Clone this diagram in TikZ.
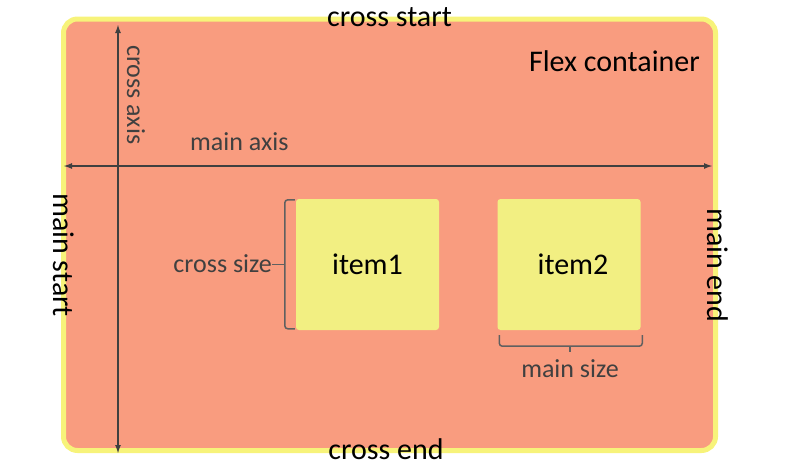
\documentclass[tikz,border=0pt]{standalone}
\usepackage{fontspec}
\setmainfont{Carlito}
\usetikzlibrary{arrows.meta}
\definecolor{boxfill}{RGB}{249,156,127}
\definecolor{boxborder}{RGB}{247,243,122}
\definecolor{itemfill}{RGB}{242,239,130}
\definecolor{axisgray}{RGB}{64,64,64}
\definecolor{bracegray}{RGB}{96,96,96}
\newcommand\fcbig{\fontsize{30}{36}\selectfont}
\newcommand\fcsmall{\fontsize{26}{31}\selectfont}
\tikzset{
 container/.style={draw=boxborder, fill=boxfill, line width=5pt, rounded corners=14pt, minimum width=652pt, minimum height=431.5pt, inner sep=0pt},
 flexitem/.style={fill=itemfill, rounded corners=3pt, minimum width=143pt, minimum height=131pt, inner sep=0pt, font=\fcbig, text=black},
 bigtext/.style={font=\fcbig, text=black, inner sep=0pt},
 smalltext/.style={font=\fcsmall, text=axisgray, inner sep=0pt},
 axisline/.style={draw=axisgray, line width=2pt, {Latex[length=9pt,width=6pt]}-{Latex[length=9pt,width=6pt]}},
 bracket/.style={draw=bracegray, line width=1.5pt, rounded corners=3pt},
}
\begin{document}
\begin{tikzpicture}[x=1pt,y=-1pt]
\useasboundingbox (0,0) rectangle (791,474);
\node[container] (box) at (389.5,234.75) {};
\coordinate (vtop) at (118,24);
\coordinate (vbot) at (118,454);
\coordinate (hleft) at (63,166);
\coordinate (hright) at (713,166);
\draw[axisline] (vtop) -- (vbot);
\draw[axisline] (hleft) -- (hright);
\node[flexitem] (item1) at (367.5,264.5) {item1};
\node[flexitem] (item2) at (569,264.5) {\hspace*{8pt}item2};
\node[bigtext, anchor=base] (cstart) at (389.5,26) {cross start};
\node[bigtext, anchor=base east] (flex) at (700,71) {Flex container};
\node[smalltext, anchor=base west] (maxis) at (190,150.5) {main axis};
\node[smalltext, anchor=base west, rotate=-90] (caxis) at (127,45) {cross axis};
\node[bigtext, anchor=base west, rotate=-90] (mstart) at (53,193) {main start};
\node[bigtext, anchor=base west, rotate=-90] (mend) at (707,208) {main end};
\node[bigtext, anchor=base] (cend) at (386,459) {cross end};
\node[smalltext, anchor=base east] (csize) at (272,272.5) {cross size};
\node[smalltext, anchor=base] (msize) at (570,377) {main size};
% cross size bracket
\draw[bracket] ([shift={(-1,1)}]item1.north west) -- ++(-10,0) -- ++(0,129) -- ++(10,0);
\draw[bracket] ([shift={(-11,0)}]item1.west) -- (csize.east |- item1.west);
% main size bracket
\draw[bracket] ([shift={(2,5)}]item2.south west) -- ++(0,11) -- ++(143,0) -- ++(0,-11);
\draw[bracket] ([shift={(1,16)}]item2.south) -- ++(0,6);
\end{tikzpicture}
\end{document}
